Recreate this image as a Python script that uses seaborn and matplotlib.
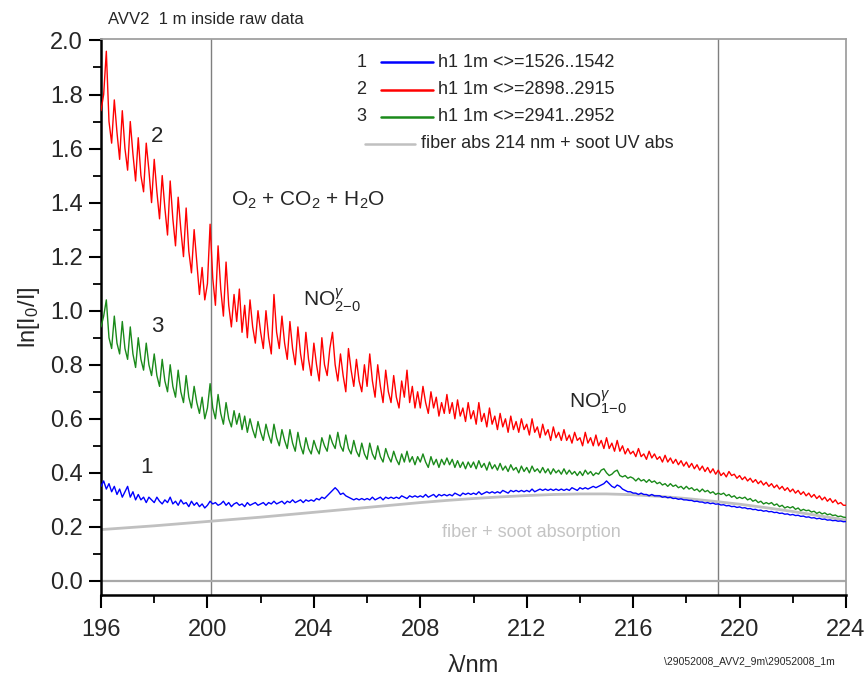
import numpy as np
import pandas as pd
import matplotlib
matplotlib.use("Agg")
import matplotlib.pyplot as plt
import seaborn as sns
from matplotlib.ticker import MultipleLocator

# wavelength grid of the spectra (nm, 0.1 nm sampling)
wavelength = np.round(np.arange(196.0, 224.0001, 0.1), 1)

# ln(I0/I), series 1: h1 1m <>=1526..1542  (one row per nm)
series_1 = [
    0.35, 0.37, 0.34, 0.36, 0.33, 0.35, 0.32, 0.34, 0.31, 0.33,
    0.35, 0.31, 0.33, 0.30, 0.32, 0.30, 0.31, 0.29, 0.31, 0.30,
    0.29, 0.31, 0.295, 0.285, 0.30, 0.29, 0.31, 0.285, 0.295, 0.28,
    0.30, 0.285, 0.29, 0.275, 0.295, 0.28, 0.29, 0.275, 0.285, 0.27,
    0.28, 0.295, 0.285, 0.29, 0.28, 0.285, 0.295, 0.28, 0.29, 0.275,
    0.285, 0.29, 0.28, 0.285, 0.275, 0.29, 0.28, 0.285, 0.29, 0.28,
    0.285, 0.29, 0.28, 0.29, 0.285, 0.295, 0.285, 0.29, 0.295, 0.285,
    0.295, 0.29, 0.30, 0.29, 0.295, 0.30, 0.29, 0.30, 0.295, 0.30,
    0.295, 0.305, 0.30, 0.31, 0.305, 0.315, 0.325, 0.335, 0.345, 0.335,
    0.32, 0.325, 0.315, 0.31, 0.305, 0.30, 0.305, 0.30, 0.305, 0.30,
    0.305, 0.30, 0.31, 0.30, 0.305, 0.31, 0.30, 0.31, 0.305, 0.31,
    0.305, 0.31, 0.305, 0.315, 0.31, 0.305, 0.315, 0.31, 0.315, 0.31,
    0.315, 0.31, 0.32, 0.31, 0.315, 0.32, 0.31, 0.32, 0.315, 0.32,
    0.315, 0.32, 0.315, 0.325, 0.32, 0.315, 0.325, 0.32, 0.325, 0.32,
    0.325, 0.32, 0.33, 0.32, 0.325, 0.33, 0.325, 0.33, 0.325, 0.33,
    0.325, 0.335, 0.33, 0.325, 0.335, 0.33, 0.335, 0.33, 0.335, 0.33,
    0.335, 0.33, 0.34, 0.33, 0.335, 0.34, 0.335, 0.34, 0.335, 0.34,
    0.335, 0.34, 0.335, 0.34, 0.335, 0.34, 0.335, 0.345, 0.34, 0.335,
    0.345, 0.34, 0.345, 0.34, 0.345, 0.35, 0.345, 0.35, 0.355, 0.36,
    0.37, 0.36, 0.35, 0.345, 0.355, 0.35, 0.34, 0.335, 0.33, 0.33,
    0.325, 0.325, 0.32, 0.325, 0.32, 0.32, 0.315, 0.32, 0.315, 0.315,
    0.315, 0.31, 0.312, 0.308, 0.31, 0.305, 0.306, 0.302, 0.304, 0.30,
    0.30, 0.298, 0.298, 0.294, 0.295, 0.292, 0.292, 0.288, 0.29, 0.286,
    0.288, 0.284, 0.285, 0.281, 0.282, 0.278, 0.279, 0.275, 0.276, 0.272,
    0.274, 0.27, 0.271, 0.267, 0.268, 0.264, 0.265, 0.261, 0.262, 0.258,
    0.26, 0.256, 0.257, 0.253, 0.254, 0.25, 0.251, 0.247, 0.248, 0.244,
    0.246, 0.242, 0.243, 0.239, 0.24, 0.236, 0.237, 0.233, 0.234, 0.23,
    0.232, 0.228, 0.229, 0.225, 0.226, 0.223, 0.224, 0.221, 0.222, 0.219,
    0.22,
]

# series 2: h1 1m <>=2898..2915
series_2 = [
    1.74, 1.80, 1.96, 1.70, 1.62, 1.78, 1.66, 1.56, 1.74, 1.60,
    1.52, 1.70, 1.58, 1.48, 1.64, 1.50, 1.44, 1.62, 1.52, 1.40,
    1.56, 1.44, 1.34, 1.50, 1.38, 1.28, 1.48, 1.34, 1.24, 1.42,
    1.30, 1.20, 1.38, 1.22, 1.14, 1.30, 1.18, 1.06, 1.16, 1.04,
    1.10, 1.32, 1.12, 1.02, 1.24, 1.08, 0.98, 1.18, 1.02, 0.94,
    1.06, 0.96, 1.08, 0.92, 1.02, 0.90, 1.04, 0.94, 0.88, 1.00,
    0.92, 0.86, 1.00, 0.90, 0.84, 1.06, 0.92, 0.86, 0.98, 0.88,
    0.82, 0.96, 0.86, 0.80, 0.94, 0.84, 0.78, 0.92, 0.82, 0.76,
    0.88, 0.80, 0.74, 0.90, 0.80, 0.76, 0.86, 0.92, 0.80, 0.74,
    0.84, 0.76, 0.70, 0.86, 0.78, 0.72, 0.82, 0.74, 0.70, 0.80,
    0.72, 0.84, 0.74, 0.68, 0.80, 0.72, 0.66, 0.78, 0.70, 0.66,
    0.76, 0.68, 0.64, 0.74, 0.68, 0.78, 0.66, 0.72, 0.64, 0.70,
    0.64, 0.72, 0.66, 0.62, 0.70, 0.64, 0.68, 0.61, 0.66, 0.62,
    0.69, 0.62, 0.66, 0.60, 0.67, 0.61, 0.64, 0.59, 0.66, 0.60,
    0.63, 0.58, 0.66, 0.59, 0.62, 0.57, 0.64, 0.58, 0.61, 0.56,
    0.62, 0.57, 0.60, 0.55, 0.61, 0.56, 0.59, 0.55, 0.60, 0.56,
    0.58, 0.54, 0.60, 0.55, 0.57, 0.53, 0.58, 0.54, 0.56, 0.52,
    0.57, 0.53, 0.55, 0.52, 0.56, 0.52, 0.54, 0.51, 0.55, 0.52,
    0.53, 0.50, 0.55, 0.51, 0.53, 0.50, 0.54, 0.50, 0.52, 0.49,
    0.53, 0.49, 0.51, 0.48, 0.52, 0.48, 0.50, 0.47, 0.49, 0.47,
    0.48, 0.46, 0.49, 0.46, 0.47, 0.45, 0.48, 0.455, 0.47, 0.45,
    0.46, 0.44, 0.465, 0.44, 0.455, 0.435, 0.45, 0.43, 0.445, 0.425,
    0.44, 0.42, 0.435, 0.415, 0.43, 0.41, 0.425, 0.405, 0.42, 0.40,
    0.415, 0.395, 0.41, 0.39, 0.40, 0.385, 0.405, 0.39, 0.395, 0.38,
    0.39, 0.375, 0.385, 0.37, 0.38, 0.365, 0.375, 0.36, 0.37, 0.355,
    0.365, 0.35, 0.36, 0.345, 0.355, 0.34, 0.35, 0.335, 0.345, 0.33,
    0.34, 0.325, 0.335, 0.32, 0.33, 0.315, 0.325, 0.31, 0.32, 0.305,
    0.315, 0.30, 0.31, 0.295, 0.305, 0.29, 0.30, 0.285, 0.29, 0.28,
    0.28,
]

# series 3: h1 1m <>=2941..2952
series_3 = [
    0.94, 0.98, 1.04, 0.90, 0.86, 0.98, 0.88, 0.84, 0.96, 0.86,
    0.82, 0.94, 0.84, 0.79, 0.90, 0.82, 0.78, 0.88, 0.80, 0.76,
    0.84, 0.76, 0.72, 0.82, 0.74, 0.70, 0.80, 0.72, 0.68, 0.78,
    0.70, 0.66, 0.76, 0.68, 0.64, 0.72, 0.66, 0.62, 0.68, 0.60,
    0.64, 0.73, 0.64, 0.60, 0.69, 0.62, 0.58, 0.66, 0.60, 0.57,
    0.63, 0.58, 0.62, 0.56, 0.61, 0.55, 0.60, 0.56, 0.53, 0.59,
    0.55, 0.52, 0.58, 0.54, 0.51, 0.58, 0.53, 0.50, 0.56, 0.52,
    0.49, 0.56, 0.51, 0.48, 0.55, 0.50, 0.47, 0.53, 0.49, 0.47,
    0.52, 0.49, 0.47, 0.53, 0.50, 0.48, 0.54, 0.51, 0.49, 0.55,
    0.50, 0.48, 0.54, 0.49, 0.47, 0.52, 0.48, 0.46, 0.51, 0.47,
    0.45, 0.51, 0.47, 0.45, 0.50, 0.46, 0.44, 0.49, 0.46, 0.44,
    0.48, 0.45, 0.43, 0.47, 0.44, 0.48, 0.44, 0.46, 0.43, 0.46,
    0.44, 0.47, 0.44, 0.42, 0.46, 0.43, 0.45, 0.42, 0.45, 0.43,
    0.455, 0.43, 0.45, 0.42, 0.445, 0.42, 0.44, 0.415, 0.44, 0.42,
    0.44, 0.415, 0.445, 0.42, 0.435, 0.41, 0.44, 0.415, 0.43, 0.41,
    0.435, 0.41, 0.425, 0.405, 0.43, 0.41, 0.42, 0.40, 0.425, 0.405,
    0.42, 0.40, 0.425, 0.405, 0.415, 0.40, 0.42, 0.40, 0.415, 0.395,
    0.415, 0.40, 0.41, 0.395, 0.415, 0.395, 0.41, 0.395, 0.405, 0.39,
    0.405, 0.39, 0.41, 0.395, 0.405, 0.39, 0.40, 0.395, 0.41, 0.415,
    0.40, 0.39, 0.395, 0.405, 0.41, 0.39, 0.385, 0.39, 0.38, 0.385,
    0.38, 0.37, 0.38, 0.37, 0.375, 0.365, 0.375, 0.365, 0.37, 0.36,
    0.365, 0.355, 0.36, 0.35, 0.36, 0.35, 0.355, 0.345, 0.35, 0.34,
    0.35, 0.34, 0.345, 0.335, 0.34, 0.33, 0.34, 0.33, 0.335, 0.325,
    0.33, 0.32, 0.325, 0.32, 0.325, 0.315, 0.32, 0.31, 0.315, 0.305,
    0.31, 0.305, 0.31, 0.30, 0.305, 0.295, 0.30, 0.29, 0.295, 0.285,
    0.29, 0.285, 0.29, 0.28, 0.285, 0.275, 0.28, 0.27, 0.275, 0.27,
    0.275, 0.265, 0.27, 0.26, 0.265, 0.26, 0.262, 0.255, 0.258, 0.25,
    0.255, 0.248, 0.252, 0.245, 0.248, 0.242, 0.244, 0.238, 0.24, 0.236,
    0.235,
]

# smooth background: fiber absorption at 214 nm + soot UV absorption
fiber_wavelength = list(range(196, 225))
fiber_soot = [
    0.190, 0.197, 0.204, 0.212, 0.220, 0.228, 0.236, 0.245, 0.254, 0.263,
    0.272, 0.281, 0.290, 0.298, 0.305, 0.311, 0.316, 0.320, 0.322, 0.322,
    0.319, 0.313, 0.305, 0.295, 0.284, 0.271, 0.257, 0.241, 0.225,
]

series_labels = ["h1 1m <>=1526..1542", "h1 1m <>=2898..2915", "h1 1m <>=2941..2952"]
series_numbers = ["1", "2", "3"]
series_colors = ["#0000ff", "#ff0000", "#1a8a1a"]
fiber_label = "fiber abs 214 nm + soot UV abs"
marker_lines = [200.15, 219.2]

x_ticks = [196, 200, 204, 208, 212, 216, 220, 224]
y_ticks = [0.0, 0.2, 0.4, 0.6, 0.8, 1.0, 1.2, 1.4, 1.6, 1.8, 2.0]

sns.set_style("white")
plt.rcParams["font.family"] = ["Liberation Sans", "DejaVu Sans"]
plt.rcParams["mathtext.fontset"] = "custom"
plt.rcParams["mathtext.rm"] = "Liberation Sans"
plt.rcParams["mathtext.it"] = "Liberation Sans:italic"

df = pd.concat(
    [
        pd.DataFrame({"wavelength": wavelength, "value": vals, "series": lab})
        for vals, lab in zip([series_1, series_2, series_3], series_labels)
    ],
    ignore_index=True,
)

fig = plt.figure(figsize=(8.67, 6.8), dpi=100)
ax = fig.add_axes([0.1165, 0.125, 0.8593, 0.8175])

# reference lines
for xv in marker_lines:
    ax.axvline(xv, color="#7f7f7f", lw=1.0, zorder=1)
ax.axhline(0.0, color="#a8a8a8", lw=1.6, zorder=1)

sns.lineplot(
    data=pd.DataFrame({"wavelength": fiber_wavelength, "value": fiber_soot}),
    x="wavelength", y="value", color="#c0c0c0", lw=2.0, ax=ax, zorder=2,
)
sns.lineplot(
    data=df, x="wavelength", y="value", hue="series",
    hue_order=[series_labels[0], series_labels[2], series_labels[1]],
    palette=dict(zip(series_labels, series_colors)),
    estimator=None, sort=False, lw=1.0, legend=False, ax=ax, zorder=3,
)

ax.set_xlim(196, 224)
ax.set_ylim(-0.052, 2.005)
ax.set_xticks(x_ticks)
ax.set_yticks(y_ticks)
ax.set_yticklabels([f"{v:.1f}" for v in y_ticks])
ax.xaxis.set_minor_locator(MultipleLocator(2))
ax.yaxis.set_minor_locator(MultipleLocator(0.1))
ax.tick_params(axis="both", which="major", labelsize=17, direction="out",
               length=9, width=1.5, color="black")
ax.tick_params(axis="both", which="minor", direction="out", length=6, width=1.3,
               color="black")
ax.tick_params(axis="x", which="both", bottom=True, top=False, pad=8)
ax.tick_params(axis="y", which="both", left=True, right=False, pad=4)

for side in ["top", "right"]:
    ax.spines[side].set_color("#a0a0a0")
    ax.spines[side].set_linewidth(1.3)
for side in ["left", "bottom"]:
    ax.spines[side].set_color("black")
    ax.spines[side].set_linewidth(1.8)

ax.set_xlabel("λ/nm", fontsize=17, labelpad=10)
ax.set_ylabel(r"ln[I$_0$/I]", fontsize=17, labelpad=6)

# legend drawn as numbered rows
row_y = [0.958, 0.909, 0.860]
for num, lab, col, yy in zip(series_numbers, series_labels, series_colors, row_y):
    ax.text(0.356, yy, num, transform=ax.transAxes, fontsize=13, ha="right", va="center")
    ax.plot([0.376, 0.446], [yy, yy], transform=ax.transAxes, color=col, lw=1.8)
    ax.text(0.453, yy, lab, transform=ax.transAxes, fontsize=13, ha="left", va="center")
ax.plot([0.355, 0.422], [0.812, 0.812], transform=ax.transAxes, color="#c0c0c0", lw=1.8)
ax.text(0.430, 0.812, fiber_label, transform=ax.transAxes, fontsize=13, ha="left", va="center")

# curve numbers and band annotations
ax.text(198.1, 1.645, "2", fontsize=16, ha="center", va="center")
ax.text(198.1, 0.94, "3", fontsize=16, ha="center", va="center")
ax.text(197.7, 0.42, "1", fontsize=16, ha="center", va="center")
ax.text(200.9, 1.41, r"O$_2$ + CO$_2$ + H$_2$O", fontsize=15, ha="left", va="center")
ax.text(203.6, 1.04, r"NO$^{\gamma}_{2\mathrm{-}0}$", fontsize=15, ha="left", va="center")
ax.text(213.6, 0.66, r"NO$^{\gamma}_{1\mathrm{-}0}$", fontsize=15, ha="left", va="center")
ax.text(208.8, 0.178, "fiber + soot absorption", fontsize=13, color="#c4c4c4",
        ha="left", va="center")

fig.text(0.125, 0.972, "AVV2  1 m inside raw data", fontsize=12, ha="left", va="center")
fig.text(0.963, 0.028, r"\29052008_AVV2_9m\29052008_1m", fontsize=7.5,
         ha="right", va="center")

fig.savefig("out.png", dpi=100)
